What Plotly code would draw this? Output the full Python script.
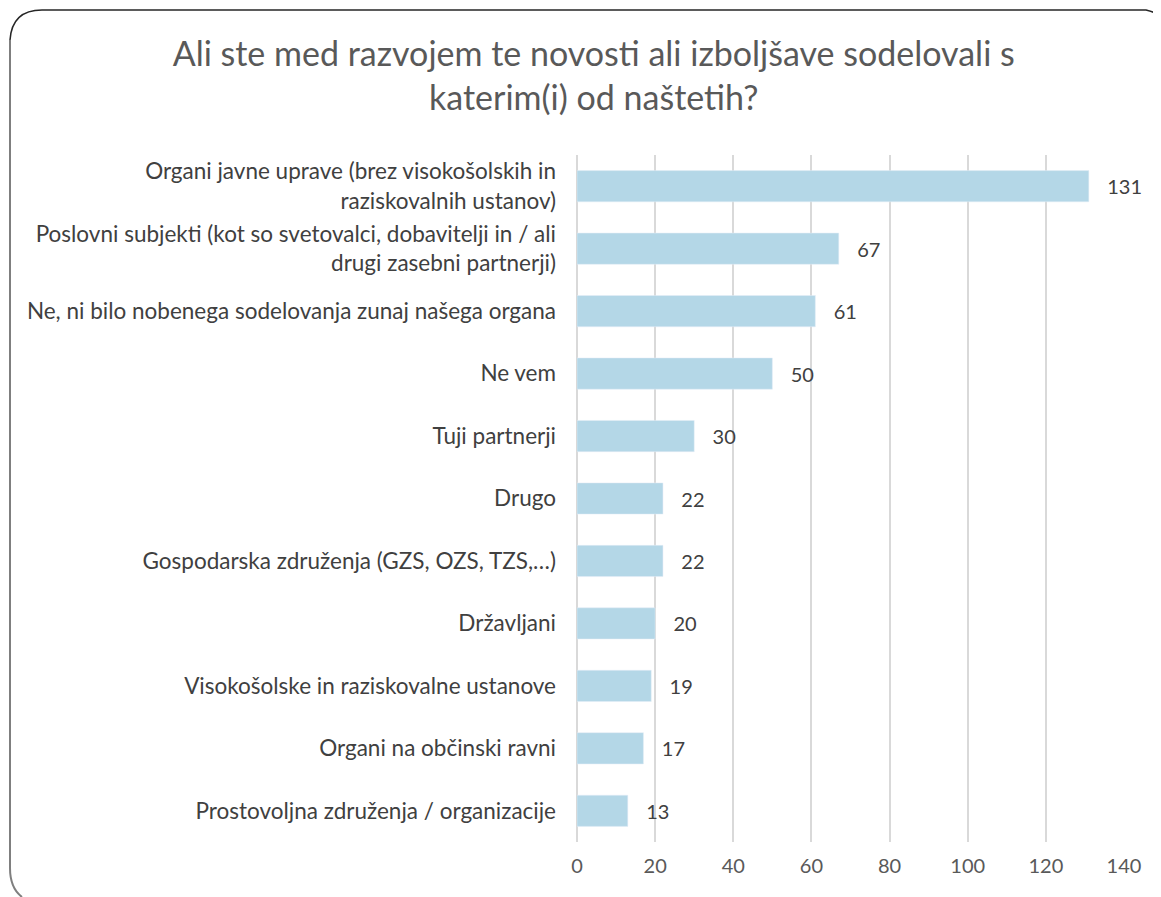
import plotly.graph_objects as go

categories = [
    "Organi javne uprave (brez visokošolskih in<br>raziskovalnih ustanov)",
    "Poslovni subjekti (kot so svetovalci, dobavitelji in / ali<br>drugi zasebni partnerji)",
    "Ne, ni bilo nobenega sodelovanja zunaj našega organa",
    "Ne vem",
    "Tuji partnerji",
    "Drugo",
    "Gospodarska združenja (GZS, OZS, TZS,…)",
    "Državljani",
    "Visokošolske in raziskovalne ustanove",
    "Organi na občinski ravni",
    "Prostovoljna združenja / organizacije",
]
values = [131, 67, 61, 50, 30, 22, 22, 20, 19, 17, 13]
x_ticks = [0, 20, 40, 60, 80, 100, 120, 140]

# the page body has an 8px margin, so the figure starts at (8, 8)
OFF = 8
W, H = 1161 - OFF, 897 - OFF
L, R, T, B = 577 - OFF, 1124 - OFF, 155 - OFF, 842 - OFF


def px(x):
    return (x - OFF - L) / (R - L)


def py(y):
    return (B - (y - OFF)) / (B - T)


fig = go.Figure(go.Bar(
    y=categories,
    x=values,
    orientation="h",
    marker=dict(color="#B4D7E7"),
    text=values,
    texttemplate="   %{x}",
    textposition="outside",
    textfont=dict(size=20, color="#404040"),
    cliponaxis=False,
))

# slide frame
left_path = (f"M {px(10)},{py(40)} L {px(10)},{py(868)} "
             f"Q {px(10)},{py(888)} {px(22)},{py(897)}")
top_path = (f"M {px(10)},{py(40)} Q {px(12)},{py(10)} {px(42)},{py(10)} "
            f"L {px(1146)},{py(10)} Q {px(1156)},{py(12)} {px(1161)},{py(18)}")

fig.update_layout(
    width=W, height=H,
    margin=dict(l=L, r=W - R, t=T, b=H - B, autoexpand=False),
    paper_bgcolor="white",
    plot_bgcolor="white",
    font=dict(family="Lato, Open Sans, sans-serif", size=22, color="#404040"),
    title=dict(
        text="Ali ste med razvojem te novosti ali izboljšave sodelovali s<br>katerim(i) od naštetih?",
        x=0.508, xanchor="center", y=0.935, yanchor="top",
        font=dict(size=34, color="#595959"),
    ),
    bargap=0.5,
    showlegend=False,
    shapes=[
        dict(type="path", path=left_path, xref="paper", yref="paper",
             line=dict(color="#7F7F7F", width=2)),
        dict(type="path", path=top_path, xref="paper", yref="paper",
             line=dict(color="#262626", width=1.5)),
    ],
)
fig.update_xaxes(
    range=[0, 140],
    tickvals=x_ticks,
    showgrid=True, gridcolor="#D9D9D9", gridwidth=1.5,
    zeroline=True, zerolinecolor="#D9D9D9", zerolinewidth=1.5,
    tickfont=dict(size=20, color="#595959"),
    ticks="", ticklabelstandoff=10,
)
fig.update_yaxes(
    autorange="reversed",
    tickfont=dict(size=22.5, color="#404040"),
    ticks="", ticklabelstandoff=20,
)

fig.write_html("out.html")
